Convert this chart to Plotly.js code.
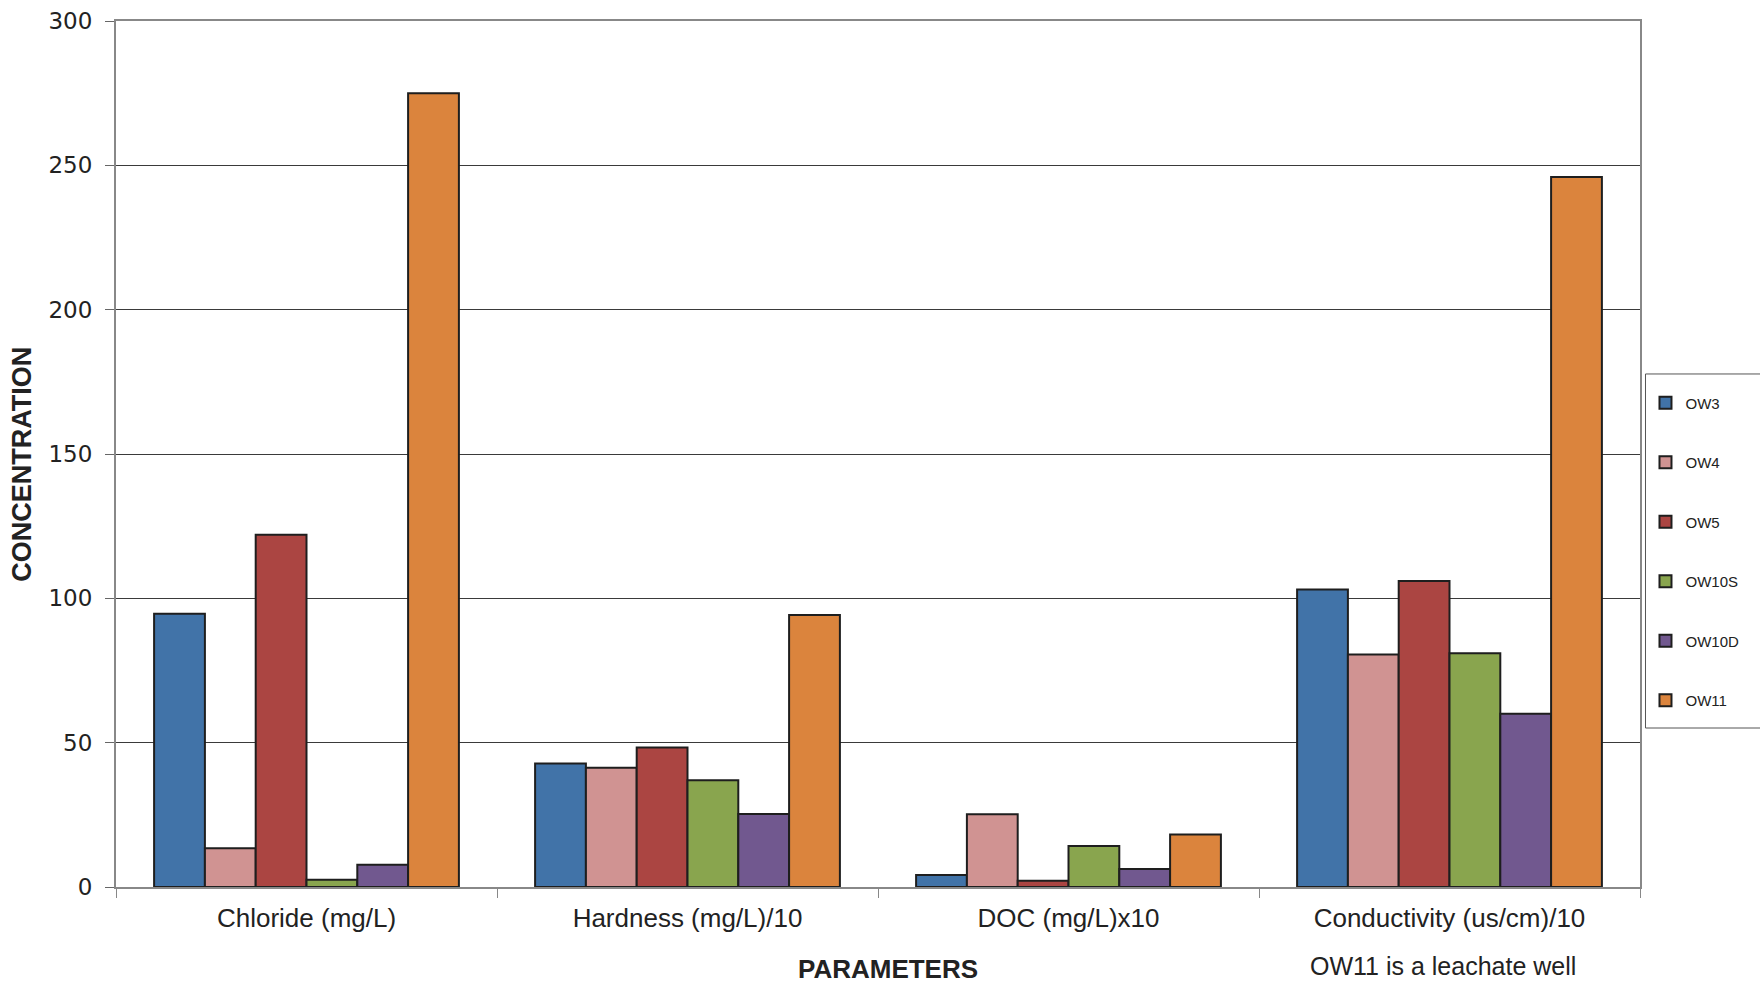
<!DOCTYPE html>
<html>
<head>
<meta charset="utf-8">
<script src="https://cdn.plot.ly/plotly-3.0.1.min.js"></script>
<style>html,body{margin:0;padding:0;background:#fff;}#chart{width:1760px;height:985px;}</style>
</head>
<body>
<div id="chart"></div>
<script>
const categories = ["Chloride (mg/L)", "Hardness (mg/L)/10", "DOC (mg/L)x10", "Conductivity (us/cm)/10"];
const seriesNames = ["OW3", "OW4", "OW5", "OW10S", "OW10D", "OW11"];
const OW3 = [94.7, 42.8, 4.2, 103.1];
const OW4 = [13.4, 41.3, 25.2, 80.5];
const OW5 = [122, 48.3, 2.2, 106];
const OW10S = [2.5, 37.0, 14.2, 81];
const OW10D = [7.7, 25.3, 6.2, 60];
const OW11 = [275, 94.2, 18.2, 246];
const seriesValues = [OW3, OW4, OW5, OW10S, OW10D, OW11];
const colors = ["#4173A8", "#D09392", "#AB4542", "#89A54E", "#71588F", "#DB843D"];
const yTicks = [0, 50, 100, 150, 200, 250, 300];

const traces = seriesNames.map((n, i) => ({
  type: "bar",
  name: n,
  x: categories,
  y: seriesValues[i],
  legendgroup: n,
  marker: {color: colors[i], line: {color: "#1e1e1e", width: 2}},
  hoverinfo: "x+y+name"
}));

const font = "Liberation Sans, Arial, sans-serif";
const wide = "DejaVu Sans, Verdana, sans-serif";

const layout = {
  width: 1760, height: 985,
  margin: {l: 116, r: 120, t: 21, b: 98},
  paper_bgcolor: "#fff", plot_bgcolor: "#fff",
  barmode: "group", bargap: 0.2, bargroupgap: 0,
  showlegend: true,
  legend: {
    x: 1.0036, xanchor: "left", y: 0.578, yanchor: "top",
    borderwidth: 0, bgcolor: "rgba(0,0,0,0)",
    font: {family: font, size: 15, color: "#222"},
    tracegroupgap: 37, traceorder: "grouped"
  },
  xaxis: {
    type: "category",
    tickson: "boundaries", ticks: "outside", ticklen: 9, tickcolor: "#888", tickwidth: 1,
    showline: true, linecolor: "#888", linewidth: 2, mirror: true,
    showgrid: false,
    ticklabelstandoff: 7,
    tickfont: {family: font, size: 26, color: "#222"},
    automargin: false
  },
  yaxis: {
    range: [0, 300], tickvals: yTicks, ticktext: yTicks.map(String),
    ticks: "outside", ticklen: 9, tickcolor: "#666", tickwidth: 1,
    showline: true, linecolor: "#888", linewidth: 2, mirror: true,
    showgrid: true, gridcolor: "#3a3a3a", gridwidth: 1,
    zeroline: false,
    ticklabelstandoff: 8,
    tickfont: {family: wide, size: 23, color: "#222"},
    automargin: false
  },
  shapes: [
    {type: "rect", xref: "paper", yref: "paper", x0: 1.0036, x1: 1.25, y0: 0.1836, y1: 0.5924,
     line: {color: "#555", width: 1}, fillcolor: "rgba(0,0,0,0)", layer: "below"}
  ],
  annotations: [
    {text: "<b>CONCENTRATION</b>", xref: "paper", yref: "paper", x: -0.0614, y: 0.488,
     xanchor: "center", yanchor: "middle", textangle: -90, showarrow: false,
     font: {family: font, size: 27, color: "#222"}},
    {text: "<b>PARAMETERS</b>", xref: "paper", yref: "paper", x: 0.5063, y: -0.095,
     xanchor: "center", yanchor: "middle", showarrow: false,
     font: {family: font, size: 26, color: "#222"}},
    {text: "OW11 is a leachate well", xref: "paper", yref: "paper", x: 0.8707, y: -0.0915,
     xanchor: "center", yanchor: "middle", showarrow: false, borderpad: 0,
     font: {family: font, size: 25, color: "#222"}}
  ]
};

Plotly.newPlot("chart", traces, layout, {displayModeBar: false, staticPlot: true});
</script>
</body>
</html>
